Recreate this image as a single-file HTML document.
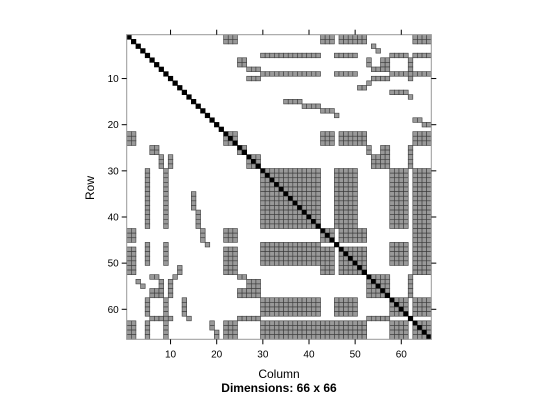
<!DOCTYPE html>
<html><head><meta charset="utf-8"><style>
html,body{margin:0;padding:0;background:#fff;}
svg text{font-family:"Liberation Sans",sans-serif;}
</style></head><body>
<svg id="chart" width="540" height="400" viewBox="0 0 540 400" xmlns="http://www.w3.org/2000/svg">
<rect width="540" height="400" fill="#fff"/>
<g id="cells"></g>
<g id="axes"></g>
<text x="279" y="378" font-size="12" text-anchor="middle">Column</text>
<text x="279" y="392" font-size="12" font-weight="bold" text-anchor="middle">Dimensions: 66 x 66</text>
<text x="0" y="0" font-size="12" text-anchor="middle" transform="translate(94,188) rotate(-90)">Row</text>
</svg>
<script>
const N = 66;
const diagBlocks = [[22,24],[25,26],[27,29],[30,42],[43,45],[47,52],[53,57],[58,61],[63,66]];
// upper-triangle rectangles: [rowStart,rowEnd,colStart,colEnd]
const offBlocks = [
 [1,2,22,24],[1,2,43,45],[1,2,47,52],[1,2,63,66],
 [3,3,54,54],[4,4,55,55],
 [5,5,30,42],[5,5,46,50],[5,5,58,61],[5,5,63,66],
 [6,7,25,26],[6,7,53,53],[6,7,56,57],[6,10,62,62],
 [8,8,27,29],[8,8,54,57],
 [9,9,30,42],[9,9,46,50],[9,9,58,61],[9,9,63,66],
 [10,10,27,29],[10,10,54,57],
 [11,11,53,53],[12,12,51,52],[13,13,58,61],[14,14,62,62],
 [15,15,35,38],[16,16,39,42],[17,17,43,45],[18,18,46,46],
 [19,19,63,64],[20,20,65,66],
 [22,24,43,45],[22,24,47,52],[22,24,63,66],
 [25,26,53,53],[25,26,56,57],[27,29,54,57],[25,29,62,62],
 [30,42,46,50],[30,42,58,61],[30,52,63,66],
 [43,45,47,52],[46,50,58,61],
 [53,57,62,62],[58,61,63,66]
];
const tickValues = [10,20,30,40,50,60];

const x0 = 126.7, y0 = 34.7, cs = 4.615;
const xPos = c => x0 + (c-1)*cs;
const yPos = r => y0 + (r-1)*cs;
const NS = 'http://www.w3.org/2000/svg';
const cellsG = document.getElementById('cells');
const filled = {};
function mark(r,c,v){const k=r+','+c; if(!filled[k]||v>filled[k]) filled[k]=v;}
diagBlocks.forEach(b=>{for(let r=b[0];r<=b[1];r++)for(let c=b[0];c<=b[1];c++)mark(r,c,1);});
offBlocks.forEach(b=>{for(let r=b[0];r<=b[1];r++)for(let c=b[2];c<=b[3];c++){mark(r,c,1);mark(c,r,1);}});
for(let i=1;i<=N;i++) mark(i,i,2);
Object.keys(filled).forEach(k=>{
  const [r,c]=k.split(',').map(Number);
  const el=document.createElementNS(NS,'rect');
  el.setAttribute('x',xPos(c)); el.setAttribute('y',yPos(r));
  el.setAttribute('width',cs); el.setAttribute('height',cs);
  el.setAttribute('fill', filled[k]===2 ? '#000' : '#999');
  el.setAttribute('stroke', filled[k]===2 ? '#000' : '#3a3a3a');
  el.setAttribute('stroke-width','0.6');
  
  
  cellsG.appendChild(el);
});
const axes=document.getElementById('axes');
const x1 = xPos(N+1), y1 = yPos(N+1);
const frame=document.createElementNS(NS,'rect');
frame.setAttribute('x',x0); frame.setAttribute('y',y0);
frame.setAttribute('width',x1-x0); frame.setAttribute('height',y1-y0);
frame.setAttribute('fill','none'); frame.setAttribute('stroke','#999'); frame.setAttribute('stroke-width','1');


axes.appendChild(frame);
function line(a,b,c,d,name){const l=document.createElementNS(NS,'line');
 l.setAttribute('x1',a);l.setAttribute('y1',b);l.setAttribute('x2',c);l.setAttribute('y2',d);
 l.setAttribute('stroke','#000');l.setAttribute('stroke-width','1');
 
 
 axes.appendChild(l);}
function txt(x,y,s,anchor,name){const t=document.createElementNS(NS,'text');
 t.setAttribute('x',x);t.setAttribute('y',y);t.setAttribute('font-size','10');t.setAttribute('text-anchor',anchor);
 t.textContent=s;
 
 
 axes.appendChild(t);}
tickValues.forEach(v=>{
  const cx = xPos(v)+cs/2, cy = yPos(v)+cs/2;
  line(cx,y0,cx,y0-5,'x-tick-top');
  line(cx,y1,cx,y1+5,'x-tick-bottom');
  line(x0,cy,x0-5,cy,'y-tick-left');
  line(x1,cy,x1+5,cy,'y-tick-right');
  txt(cx,y1+18,String(v),'middle','x-tick-label');
  txt(x0-8,cy+3.5,String(v),'end','y-tick-label');
});
</script>
</body></html>
